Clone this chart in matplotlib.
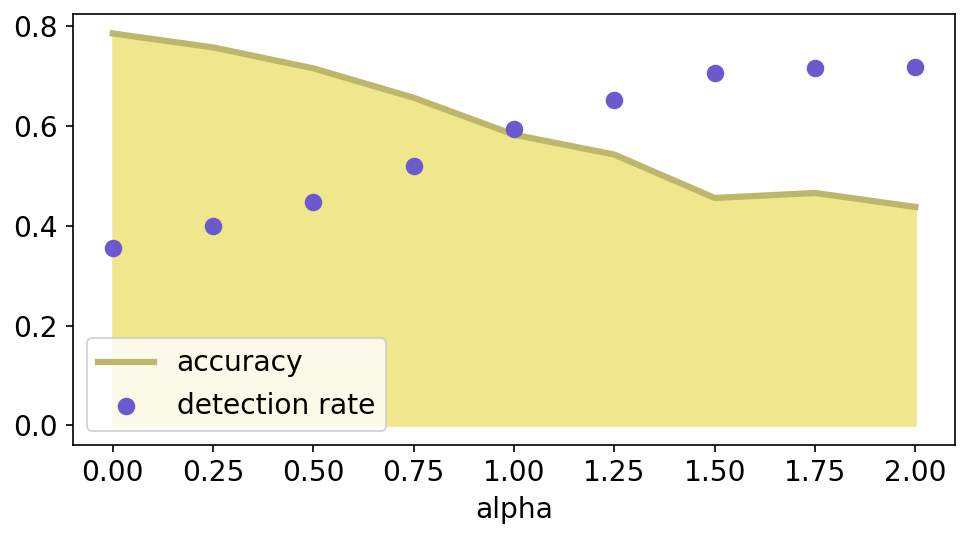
import matplotlib
matplotlib.use("Agg")
import matplotlib.pyplot as plt

alpha = [0.0, 0.25, 0.5, 0.75, 1.0, 1.25, 1.5, 1.75, 2.0]
accuracy = [0.786, 0.758, 0.716, 0.657, 0.583, 0.543, 0.456, 0.466, 0.438]
detection_rate = [0.356, 0.400, 0.448, 0.521, 0.595, 0.653, 0.706, 0.716, 0.718]

plt.rcParams["font.size"] = 13.5
fig, ax = plt.subplots(figsize=(6.46, 3.56), dpi=150)
ax.fill_between(alpha, accuracy, color="khaki")
ax.plot(alpha, accuracy, color="darkkhaki", lw=3, label="accuracy")
ax.scatter(alpha, detection_rate, color="slateblue", s=55, zorder=3, label="detection rate")
ax.set_xlabel("alpha")
ax.set_xticks(alpha)
ax.set_yticks([0.0, 0.2, 0.4, 0.6, 0.8])
ax.legend(loc="lower left")
fig.subplots_adjust(left=0.075, right=0.986, top=0.974, bottom=0.167)
fig.savefig("out.png")
